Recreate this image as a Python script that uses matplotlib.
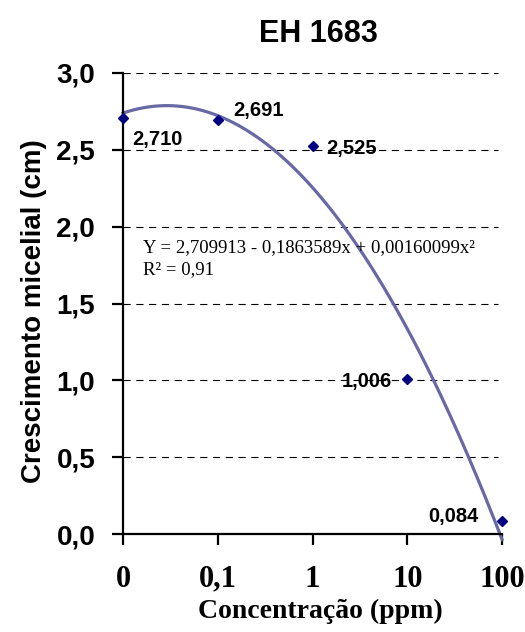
import numpy as np
import matplotlib
matplotlib.use("Agg")
import matplotlib.pyplot as plt
import matplotlib.transforms as mtransforms

# Mycelial growth of isolate EH 1683 at each fungicide concentration
concentracoes = ["0", "0,1", "1", "10", "100"]
crescimento = [2.710, 2.691, 2.525, 1.006, 0.084]
rotulos = ["2,710", "2,691", "2,525", "1,006", "0,084"]
yticks = [0.0, 0.5, 1.0, 1.5, 2.0, 2.5, 3.0]
ytick_labels = ["0,0", "0,5", "1,0", "1,5", "2,0", "2,5", "3,0"]

pos = np.arange(len(concentracoes))

fig = plt.figure(figsize=(5.25, 6.32), dpi=100)
ax = fig.add_axes([0.2343, 0.155, 0.722, 0.7295])

# grid lines
for y in yticks[1:]:
    ax.axhline(y, color="black", lw=0.8, ls=(0, (6.5, 5)), xmin=0, xmax=0.99, zorder=1)

# quadratic trend line over category positions
coef = np.polyfit(pos, crescimento, 2)
xx = np.linspace(pos[0], pos[-1], 300)
ax.plot(xx, np.polyval(coef, xx), color="#6868a4", lw=2.3, zorder=2, clip_on=False)

ax.plot(pos, crescimento, ls="none", marker="D", ms=4.8, color="#000080", zorder=3, clip_on=False)

# value labels placed around each point
label_off = [(7, -15.5), (11, 7), (10, -2), (-11, -1.5), (-17, 3)]
label_ha = ["left", "left", "left", "right", "right"]
for x, y, t, off, ha in zip(pos, crescimento, rotulos, label_off, label_ha):
    ax.annotate(t, (x, y), xytext=off, textcoords="offset points", ha=ha, va="center",
                fontsize=14.5, fontweight="bold", family="Liberation Sans", zorder=4)

ax.text(0.211, 1.861, "Y = 2,709913 - 0,1863589x + 0,00160099x²", family="Liberation Serif",
        fontsize=13.5, va="center", ha="left")
ax.text(0.211, 1.718, "R² = 0,91", family="Liberation Serif", fontsize=13.5, va="center", ha="left")

ax.set_xlim(0, 4)
ax.set_ylim(0, 3)
ax.set_xticks(pos)
ax.set_xticklabels(concentracoes, family="Liberation Serif", fontweight="bold", fontsize=22)
ax.set_yticks(yticks)
ax.set_yticklabels(ytick_labels, family="Liberation Sans", fontweight="bold", fontsize=20)

# nudge the outer tick labels slightly inward
xlabels = ax.get_xticklabels()
for lbl, dx in zip(xlabels, [-4, -2, 0, -3, -7]):
    lbl.set_transform(lbl.get_transform() + mtransforms.ScaledTranslation(dx / 72, 0, fig.dpi_scale_trans))

for s in ["top", "right"]:
    ax.spines[s].set_visible(False)
ax.spines["left"].set_linewidth(1.6)
ax.spines["bottom"].set_linewidth(1.6)
ax.tick_params(axis="both", direction="out", length=8, width=1.6)
ax.tick_params(axis="x", pad=14)
ax.tick_params(axis="y", pad=12)

fig.text(0.61, 0.033, "Concentração (ppm)", family="Liberation Serif", fontweight="bold",
         fontsize=20, ha="center", va="center")
fig.text(0.065, 0.508, "Crescimento micelial (cm)", family="Liberation Sans", fontweight="bold",
         fontsize=20, rotation=90, ha="center", va="center")
fig.text(0.606, 0.946, "EH 1683", family="Liberation Sans", fontweight="bold", fontsize=22,
         ha="center", va="center")

fig.savefig("out.png", dpi=100)
